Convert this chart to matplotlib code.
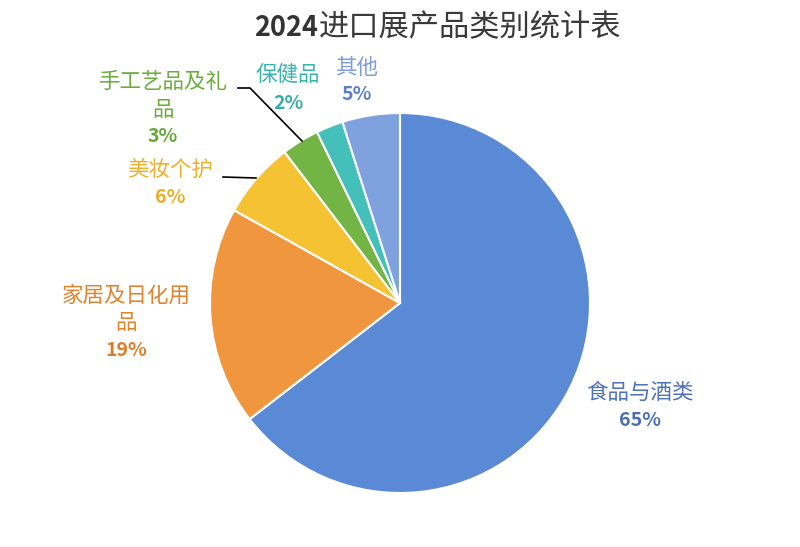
import matplotlib
matplotlib.use("Agg")
import matplotlib.pyplot as plt

plt.rcParams["font.family"] = ["Noto Sans CJK SC", "DejaVu Sans"]

categories = ["食品与酒类", "家居及日化用品", "美妆个护", "手工艺品及礼品", "保健品", "其他"]
# slice shares; printed labels are rounded
values = [64.6, 18.6, 6.5, 3.2, 2.3, 4.9]
pct_labels = ["65%", "19%", "6%", "3%", "2%", "5%"]
slice_colors = ["#5A8AD5", "#F0963E", "#F5C233", "#72B545", "#44BFBA", "#7FA2DE"]
name_colors = ["#4E72B8", "#E0822E", "#EDB02A", "#6AAE3C", "#3BB3AE", "#7F9ED8"]
pct_colors = ["#4A6FB8", "#DD7E2A", "#EAAE26", "#63A836", "#35ADA8", "#5A7FC8"]
# label lines as shown (long names wrap)
label_text = ["食品与酒类", "家居及日化用\n品", "美妆个护", "手工艺品及礼\n品", "保健品", "其他"]
title_year = "2024"
title_rest = "进口展产品类别统计表"

W, H = 800, 547
fig = plt.figure(figsize=(W / 100, H / 100), dpi=100)

cx, cy, r = 400, 303, 190


def fx(x):
    return x / W


def fy(y):
    return 1 - y / H


ax = fig.add_axes([fx(cx - r), fy(cy + r), 2 * r / W, 2 * r / H])
ax.pie(values, colors=slice_colors, startangle=90, counterclock=False,
       wedgeprops=dict(edgecolor="white", linewidth=1.5))
ax.set_xlim(-1, 1)
ax.set_ylim(-1, 1)
ax.axis("off")

# label anchor positions in pixels (name center, percent center)
name_pos = [(640, 393), (126, 309), (170, 170), (163, 96), (288, 75), (357, 68)]
pct_pos = [(640, 421), (126, 351), (170, 198), (163, 136), (288, 104), (357, 95)]

for i, cat in enumerate(categories):
    nx, ny = name_pos[i]
    px, py = pct_pos[i]
    fig.text(fx(nx), fy(ny), label_text[i], color=name_colors[i], fontsize=15.5,
             ha="center", va="center", linespacing=1.3)
    fig.text(fx(px), fy(py), pct_labels[i], color=pct_colors[i], fontsize=14,
             fontweight="bold", ha="center", va="center")

# leader lines
fig.add_artist(plt.Line2D([fx(238), fx(250), fx(302)], [fy(88), fy(88), fy(141)],
                          color="black", linewidth=1.2))
fig.add_artist(plt.Line2D([fx(223), fx(256)], [fy(177), fy(178)],
                          color="black", linewidth=1.2))

# title: bold year + regular chinese, sharing one baseline
fig.text(fx(318), fy(36), title_year, color="#333333", fontsize=19.5,
         fontweight="bold", ha="right", va="baseline")
fig.text(fx(319), fy(36), title_rest, color="#3A3A3A", fontsize=21.8,
         ha="left", va="baseline")

fig.savefig("out.png", dpi=100, facecolor="white")
